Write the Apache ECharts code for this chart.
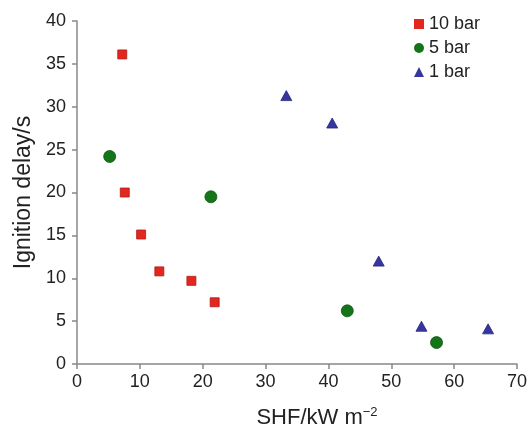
<!DOCTYPE html>
<html>
<head>
<meta charset="utf-8">
<script src="https://cdn.jsdelivr.net/npm/echarts@6/dist/echarts.min.js"></script>
<style>
  html, body { margin: 0; padding: 0; background: #fff; }
  #main { width: 531px; height: 430px; }
</style>
</head>
<body>
<div id="main"></div>
<script>
// SHF (kW m-2) vs ignition delay (s)
var bar10 = [[7.2, 36.1], [7.6, 20.0], [10.2, 15.1], [13.1, 10.8], [18.2, 9.7], [21.9, 7.2]];
var bar5 = [[5.2, 24.2], [21.3, 19.5], [43.0, 6.2], [57.2, 2.5]];
var bar1 = [[33.3, 31.3], [40.6, 28.1], [48.0, 12.0], [54.8, 4.4], [65.4, 4.1]];

var font = 'Liberation Sans, Arial, sans-serif';
var axisCommon = {
  axisLine: { lineStyle: { color: '#888', width: 1.5 } },
  axisTick: { show: true, length: 5, lineStyle: { color: '#888', width: 1.5 } },
  axisLabel: { color: '#222', fontSize: 18, fontFamily: font },
  splitLine: { show: false }
};

var chart = echarts.init(document.getElementById('main'));
chart.setOption({
  backgroundColor: '#fff',
  animation: false,
  grid: { left: 77, right: 14, top: 21, bottom: 66, outerBoundsMode: 'none' },
  legend: {
    orient: 'vertical',
    left: 409,
    top: 10,
    itemWidth: 10,
    itemHeight: 10,
    itemGap: 6,
    itemStyle: { borderWidth: 0 },
    textStyle: { color: '#222', fontSize: 18, fontFamily: font },
    data: ['10 bar', '5 bar', '1 bar']
  },
  xAxis: Object.assign({}, axisCommon, {
    type: 'value',
    min: 0,
    max: 70,
    interval: 10,
    axisLabel: Object.assign({}, axisCommon.axisLabel, { margin: 9 }),
    name: 'SHF/kW m{sup|−2}',
    nameLocation: 'middle',
    nameGap: 42,
    nameTextStyle: {
      color: '#222', fontSize: 22, fontFamily: font, padding: [0, 0, 0, 40],
      rich: { sup: { fontSize: 13, verticalAlign: 'top', padding: [0, 0, 10, 0], color: '#222', fontFamily: font } }
    }
  }),
  yAxis: Object.assign({}, axisCommon, {
    type: 'value',
    min: 0,
    max: 40,
    interval: 5,
    axisLabel: Object.assign({}, axisCommon.axisLabel, { margin: 11 }),
    name: 'Ignition delay/s',
    nameLocation: 'middle',
    nameGap: 41,
    nameTextStyle: { color: '#222', fontSize: 23, fontFamily: font }
  }),
  series: [
    {
      name: '10 bar',
      type: 'scatter',
      symbol: 'rect',
      symbolSize: 9,
      itemStyle: { color: '#e3261e', borderColor: '#b01c16', borderWidth: 0.8, opacity: 1 },
      data: bar10
    },
    {
      name: '5 bar',
      type: 'scatter',
      symbol: 'circle',
      symbolSize: 12,
      itemStyle: { color: '#147518', borderColor: '#0c5510', borderWidth: 0.8, opacity: 1 },
      data: bar5
    },
    {
      name: '1 bar',
      type: 'scatter',
      symbol: 'triangle',
      symbolSize: [11, 10],
      itemStyle: { color: '#3636a0', borderColor: '#26267a', borderWidth: 0.8, opacity: 1 },
      data: bar1
    }
  ]
});
</script>
</body>
</html>
